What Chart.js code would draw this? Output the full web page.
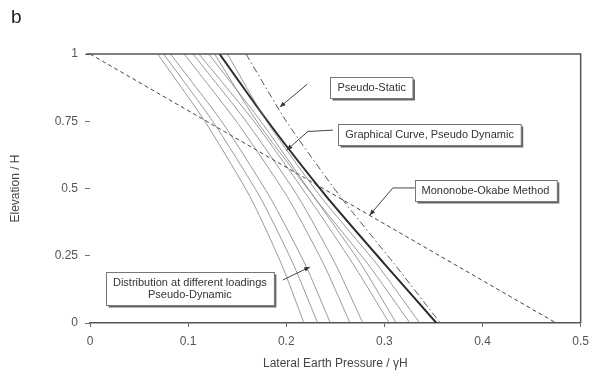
<!DOCTYPE html>
<html>
<head>
<meta charset="utf-8">
<script src="https://cdn.jsdelivr.net/npm/chart.js@4/dist/chart.umd.min.js"></script>
<style>
  html, body { margin: 0; padding: 0; background: #fff; }
  #wrap { width: 592px; height: 381px; }
</style>
</head>
<body>
<div id="wrap"><canvas id="grafico"></canvas></div>
<script>
// niveles de elevacion (z/H) donde se leyeron las curvas
const elevacion = [1, 0.75, 0.47, 0.22, 0];

// distribuciones a diferentes cargas (pseudo-dinamico), presion / gammaH
const cargas = [
  [0.069, 0.117, 0.163, 0.195, 0.218],
  [0.075, 0.125, 0.173, 0.207, 0.232],
  [0.082, 0.134, 0.183, 0.219, 0.245],
  [0.096, 0.149, 0.201, 0.238, 0.265],
  [0.105, 0.159, 0.212, 0.250, 0.278],
  [0.111, 0.167, 0.222, 0.268, 0.305],
  [0.121, 0.174, 0.228, 0.276, 0.312],
  [0.127, 0.170, 0.228, 0.283, 0.326],
  [0.140, 0.180, 0.235, 0.292, 0.336]
];
const curvaGrafica = [0.132, 0.181, 0.241, 0.300, 0.353];
const pseudoEstatico = [0.159, 0.200, 0.255, 0.310, 0.357];

// Mononobe-Okabe (recta)
const moElevacion = [1, 0];
const moPresion = [0, 0.475];

const ticksX = [0, 0.1, 0.2, 0.3, 0.4, 0.5];
const ticksY = [0, 0.25, 0.5, 0.75, 1];

// etiquetas: centro de la caja y linea guia, en unidades de los ejes
const notas = [
  { texto: ['Pseudo-Static'], x: 0.287, y: 0.875,
    guia: [[0.2215, 0.888], [0.1935, 0.803]] },
  { texto: ['Graphical Curve, Pseudo Dynamic'], x: 0.346, y: 0.699,
    guia: [[0.2475, 0.717], [0.222, 0.712], [0.2006, 0.643]] },
  { texto: ['Mononobe-Okabe Method'], x: 0.403, y: 0.491,
    guia: [[0.331, 0.502], [0.3086, 0.502], [0.285, 0.401]] },
  { texto: ['Distribution at different loadings', 'Pseudo-Dynamic'], x: 0.1018, y: 0.130,
    guia: [[0.1965, 0.160], [0.224, 0.208]] }
];

const fuente = '"Liberation Sans", Arial, sans-serif';

function puntos(valores, niveles) {
  return valores.map((v, i) => ({ x: v, y: niveles[i] }));
}

const datasets = [];
cargas.forEach((serie, i) => {
  datasets.push({
    label: 'Carga ' + (i + 1),
    data: puntos(serie, elevacion),
    borderColor: 'rgba(110,110,110,0.7)',
    borderWidth: 1,
    tension: 0.2,
    pointRadius: 0
  });
});
datasets.push({
  label: 'Graphical Curve',
  data: puntos(curvaGrafica, elevacion),
  borderColor: '#2b2b2b',
  borderWidth: 2,
  tension: 0.2,
  pointRadius: 0
});
datasets.push({
  label: 'Pseudo-Static',
  data: puntos(pseudoEstatico, elevacion),
  borderColor: '#555',
  borderWidth: 1,
  borderDash: [7, 3, 1.5, 3],
  tension: 0.2,
  pointRadius: 0
});
datasets.push({
  label: 'Mononobe-Okabe',
  data: puntos(moPresion, moElevacion),
  borderColor: '#444',
  borderWidth: 1,
  borderDash: [4, 3],
  pointRadius: 0
});

// marco superior/derecho, letra del panel y etiquetas con guias
const decoraciones = {
  id: 'decoraciones',
  afterDatasetsDraw(chart) {
    const ctx = chart.ctx;
    const a = chart.chartArea;
    const sx = chart.scales.x, sy = chart.scales.y;
    ctx.save();
    ctx.strokeStyle = '#555';
    ctx.lineWidth = 1.5;
    ctx.beginPath();
    ctx.moveTo(a.left - 4, a.top);
    ctx.lineTo(a.right, a.top);
    ctx.lineTo(a.right, a.bottom);
    ctx.stroke();

    ctx.fillStyle = '#222';
    ctx.font = '19px ' + fuente;
    ctx.textAlign = 'left';
    ctx.textBaseline = 'top';
    ctx.fillText('b', 11, 8);

    ctx.font = '11px ' + fuente;
    notas.forEach(n => {
      // guia con punta de flecha
      const pts = n.guia.map(p => [sx.getPixelForValue(p[0]), sy.getPixelForValue(p[1])]);
      ctx.strokeStyle = '#444';
      ctx.lineWidth = 1;
      ctx.beginPath();
      ctx.moveTo(pts[0][0], pts[0][1]);
      for (let i = 1; i < pts.length; i++) ctx.lineTo(pts[i][0], pts[i][1]);
      ctx.stroke();
      const [x1, y1] = pts[pts.length - 2];
      const [x2, y2] = pts[pts.length - 1];
      const ang = Math.atan2(y2 - y1, x2 - x1);
      ctx.fillStyle = '#333';
      ctx.beginPath();
      ctx.moveTo(x2, y2);
      ctx.lineTo(x2 - 6 * Math.cos(ang - 0.4), y2 - 6 * Math.sin(ang - 0.4));
      ctx.lineTo(x2 - 6 * Math.cos(ang + 0.4), y2 - 6 * Math.sin(ang + 0.4));
      ctx.closePath();
      ctx.fill();
      // caja con sombra
      const ancho = Math.max(...n.texto.map(t => ctx.measureText(t).width)) + 14;
      const alto = n.texto.length * 12 + 9;
      const cx = sx.getPixelForValue(n.x), cy = sy.getPixelForValue(n.y);
      const bx = Math.round(cx - ancho / 2) + 0.5, by = Math.round(cy - alto / 2) + 0.5;
      ctx.fillStyle = '#666';
      ctx.fillRect(bx + 2, by + 2, ancho, alto);
      ctx.fillStyle = '#fff';
      ctx.fillRect(bx, by, ancho, alto);
      ctx.strokeStyle = '#777';
      ctx.strokeRect(bx, by, ancho, alto);
      ctx.fillStyle = '#333';
      ctx.textAlign = 'center';
      ctx.textBaseline = 'middle';
      n.texto.forEach((t, i) => {
        ctx.fillText(t, cx, by + 10.5 + i * 12);
      });
    });
    ctx.restore();
  }
};

new Chart(document.getElementById('grafico'), {
  type: 'line',
  data: { datasets: datasets },
  plugins: [decoraciones],
  options: {
    responsive: true,
    maintainAspectRatio: false,
    animation: false,
    layout: { padding: { left: 0, top: 54, right: 7, bottom: 6 } },
    plugins: {
      legend: { display: false },
      tooltip: { enabled: false }
    },
    scales: {
      x: {
        type: 'linear',
        min: 0,
        max: 0.5,
        afterBuildTicks: s => { s.ticks = ticksX.map(v => ({ value: v })); },
        afterFit: s => { s.height = 52; },
        border: { display: true, color: '#555', width: 1.5 },
        grid: { display: true, drawOnChartArea: false, drawTicks: true, tickLength: 4, color: '#666' },
        ticks: { color: '#555', font: { family: fuente, size: 12, lineHeight: 1.9 }, padding: 3, callback: v => String(v) },
        title: { display: true, text: 'Lateral Earth Pressure / γH', color: '#444',
                 font: { family: fuente, size: 12 }, padding: { top: 4, bottom: 4 } }
      },
      y: {
        type: 'linear',
        min: 0,
        max: 1,
        afterBuildTicks: s => { s.ticks = ticksY.map(v => ({ value: v })); },
        afterFit: s => { s.width = 90; },
        border: { display: false },
        grid: { display: true, drawOnChartArea: false, drawTicks: true, tickLength: 5, color: '#777' },
        ticks: { color: '#555', font: { family: fuente, size: 12 }, padding: 7, callback: v => String(v) },
        title: { display: true, text: 'Elevation / H', color: '#444',
                 font: { family: fuente, size: 12 }, padding: { top: 8, bottom: 6 } }
      }
    }
  }
});
</script>
</body>
</html>
